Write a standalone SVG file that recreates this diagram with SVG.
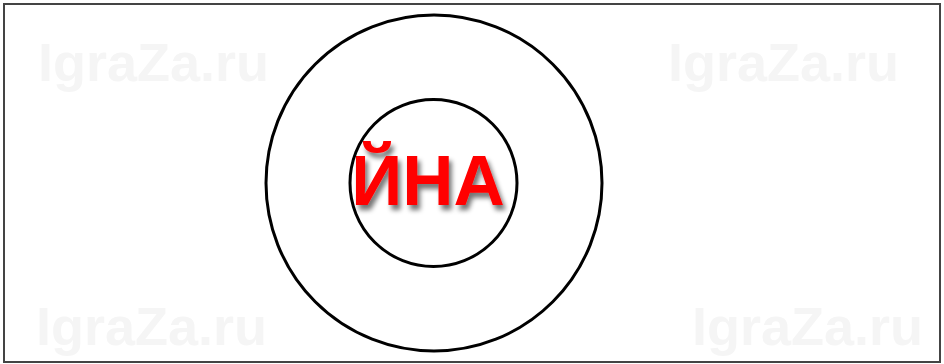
<svg xmlns="http://www.w3.org/2000/svg" width="944" height="364" viewBox="0 0 944 364">
<defs>
<style>
.wm{font-family:"Liberation Sans",Arial,sans-serif;font-weight:bold;font-size:54px;fill:#f5f5f5}
.ring{fill:none;stroke:#000;stroke-width:3}
.lbl{font-family:"Liberation Sans",Arial,sans-serif;font-weight:bold;font-size:71px;fill:#ff0000;text-anchor:middle}
</style>
<filter id="sh" x="-20%" y="-20%" width="140%" height="160%">
<feGaussianBlur in="SourceAlpha" stdDeviation="2.5"/>
<feOffset dx="3" dy="5" result="b"/>
<feComponentTransfer><feFuncA type="linear" slope="0.55"/></feComponentTransfer>
<feMerge><feMergeNode/><feMergeNode in="SourceGraphic"/></feMerge>
</filter>
</defs>
<rect x="0" y="0" width="944" height="364" fill="#fff"/>
<g id="watermarks">
<text class="wm" x="38" y="81">IgraZa.ru</text>
<text class="wm" x="668" y="81">IgraZa.ru</text>
<text class="wm" x="36" y="345">IgraZa.ru</text>
<text class="wm" x="692" y="345">IgraZa.ru</text>
</g>
<rect x="4" y="4" width="936" height="358" fill="none" stroke="#444" stroke-width="2"/>
<g id="outer"><circle class="ring" cx="434" cy="183" r="168"/></g>
<g id="inner"><circle class="ring" cx="433.5" cy="183" r="83.5"/></g>
<g id="label"><text class="lbl" x="428" y="205" filter="url(#sh)">ЙНА</text></g>
</svg>
